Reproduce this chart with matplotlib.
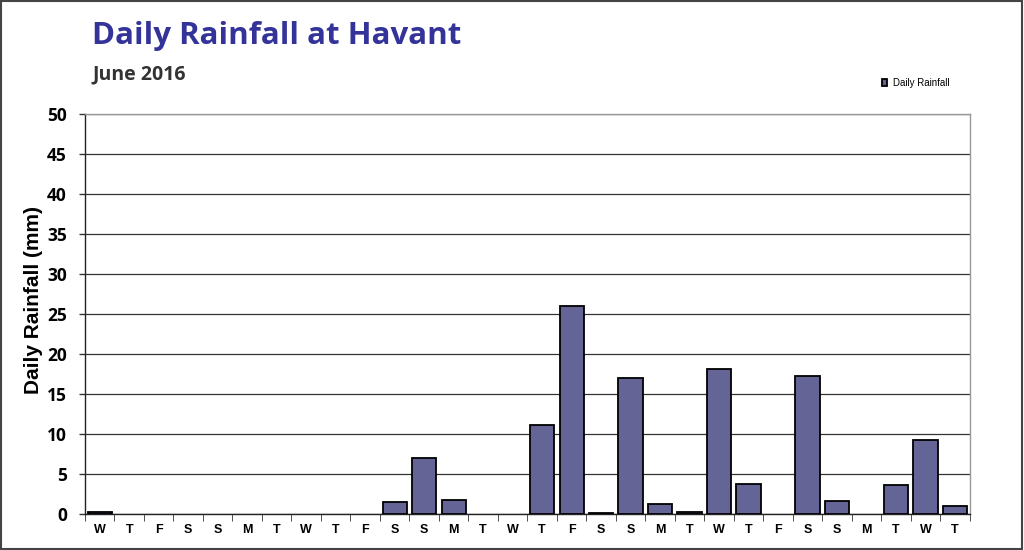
import matplotlib
matplotlib.use("Agg")
import matplotlib.pyplot as plt
import numpy as np
from matplotlib.patches import Rectangle

days = ["W","T","F","S","S","M","T","W","T","F","S","S","M","T","W",
        "T","F","S","S","M","T","W","T","F","S","S","M","T","W","T"]
rainfall = [0.2,0,0,0,0,0,0,0,0,0,1.5,7.0,1.7,0,0,
            11.1,26.0,0.1,17.0,1.2,0.3,18.1,3.8,0,17.3,1.6,0,3.6,9.2,1.0]
yticks = list(range(0, 55, 5))

bar_color = "#646496"
fig = plt.figure(figsize=(10.24, 5.5), dpi=100)
ax = fig.add_axes([0.083, 0.0655, 0.864, 0.7275])

x = np.arange(len(days))
lws = [1.3 if v > 0 else 0 for v in rainfall]
ax.bar(x, rainfall, width=0.82, color=bar_color, edgecolor="black", linewidth=lws, zorder=3,
       label="Daily Rainfall")
ax.set_xlim(-0.5, len(days) - 0.5)
ax.set_ylim(0, 50)
ax.set_yticks(yticks)
ax.set_yticklabels([str(t) for t in yticks], fontsize=12.5, fontweight="bold", family="Open Sans")
ax.yaxis.grid(True, color="#333333", linewidth=0.9, zorder=0)
ax.tick_params(axis="y", length=4, width=1, color="#333333", pad=9, direction="out")

ax.set_xticks(x)
ax.set_xticklabels(days, fontsize=9, fontweight="bold", family="Liberation Sans")
ax.set_xticks(np.arange(-0.5, len(days), 1), minor=True)
ax.tick_params(axis="x", which="major", length=0, pad=7)
ax.tick_params(axis="x", which="minor", length=5, color="#333333", direction="out")

for s in ["top", "right"]:
    ax.spines[s].set_color("#999999")
    ax.spines[s].set_linewidth(1.0)
for s in ["left", "bottom"]:
    ax.spines[s].set_color("#222222")
    ax.spines[s].set_linewidth(1.0)

ax.set_ylabel("Daily Rainfall (mm)", fontsize=15, fontweight="bold", family="Liberation Sans")
ax.yaxis.set_label_coords(-0.048, 0.535)

fig.text(0.09, 0.935, "Daily Rainfall at Havant", fontsize=22.5, fontweight="bold",
         color="#333399", family="Open Sans", va="center")
fig.text(0.09, 0.865, "June 2016", fontsize=14, fontweight="bold",
         color="#333333", family="Open Sans", va="center")

leg = ax.legend(loc="lower left", bbox_to_anchor=(0.896, 1.055), frameon=False,
                handlelength=0.6, handleheight=0.6, handletextpad=0.6,
                borderaxespad=0, prop={"family": "Liberation Sans", "size": 7})

fig.patches.append(Rectangle((0.001, 0.002), 0.997, 0.996, transform=fig.transFigure,
                             fill=False, edgecolor="#444444", linewidth=1.5))

fig.savefig("out.png", dpi=100)
